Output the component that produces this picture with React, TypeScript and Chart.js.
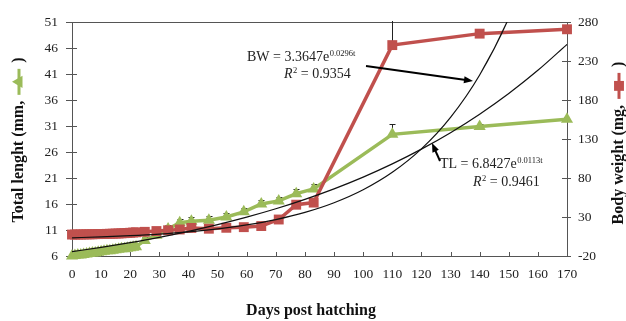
import React, { useEffect, useRef } from 'react';
import { Chart, registerables } from 'chart.js';

Chart.register(...registerables);

// ---- data ----
const sampleDays = [
  0, 1, 2, 3, 4, 5, 6, 7, 8, 9, 10, 11, 12, 13, 14, 15, 16, 17, 18, 19, 20, 21, 22,
  25, 29, 33, 37, 41, 47, 53, 59, 65, 71, 77, 83, 110, 140, 170,
];
const totalLength = [
  6.0, 6.1, 6.2, 6.2, 6.3, 6.4, 6.5, 6.6, 6.6, 6.7, 6.8, 6.9, 7.0, 7.0, 7.1, 7.2, 7.3, 7.4, 7.4, 7.5, 7.6, 7.7, 7.8,
  9.0, 10.0, 11.2, 12.4, 12.7, 12.9, 13.5, 14.5, 16.0, 16.6, 18.0, 18.9, 29.4, 30.9, 32.3,
];
const totalLengthErr = [
  0.4, 0.4, 0.4, 0.4, 0.4, 0.4, 0.4, 0.4, 0.4, 0.4, 0.4, 0.4, 0.4, 0.4, 0.4, 0.4, 0.4, 0.4, 0.4, 0.4, 0.4, 0.4, 0.4,
  0.6, 0.7, 0.8, 0.8, 0.8, 0.8, 0.8, 0.8, 0.8, 0.8, 0.8, 0.9, 1.9, 0.5, 0.5,
];
const bodyWeight = [
  7.5, 7.5, 7.6, 7.6, 7.7, 7.8, 7.8, 7.9, 8.0, 8.1, 8.2, 8.3, 8.4, 8.5, 8.6, 8.8, 8.9, 9.1, 9.3, 9.5, 9.8, 10.1, 10.4,
  11.0, 12.0, 13.0, 14.0, 16.0, 15.0, 16.2, 17.0, 18.4, 26.8, 45.8, 48.5, 250.5, 265.2, 270.8,
];
const bodyWeightErr = [
  1, 1, 1, 1, 1, 1, 1, 1, 1, 1, 1, 1, 1, 1, 1, 1, 1, 1, 1, 1, 1, 1, 1,
  1, 1, 1, 1, 1, 1, 1, 1, 1, 1, 2, 2, 60, 4, 4,
];
// fitted trend curves read at every 10 days
const trendDays = [0, 10, 20, 30, 40, 50, 60, 70, 80, 90, 100, 110, 120, 130, 140, 150, 160, 170];
const tlTrend = [6.84, 7.66, 8.58, 9.6, 10.75, 12.04, 13.48, 15.09, 16.9, 18.92, 21.18, 23.72, 26.56, 29.73, 33.29, 37.27, 41.73, 46.72];
const bwTrend = [3.36, 4.52, 6.08, 8.18, 10.99, 14.78, 19.87, 26.72, 35.92, 48.3, 64.93, 87.3, 117.38, 157.81, 212.18, 285.25, 383.5];

const xMin = 0, xMax = 170, xStep = 10;
const leftMin = 6, leftMax = 51, leftStep = 5;
const rightMin = -20, rightMax = 280, rightStep = 50;

const xTitle = 'Days post hatching';
const leftTitleA = 'Total lenght (mm, ';
const rightTitleA = 'Body weight (mg, ';
const titleB = ' )';
const bwEqMain = 'BW = 3.3647e';
const bwEqExp = '0.0296t';
const bwR2 = ' = 0.9354';
const tlEqMain = 'TL = 6.8427e';
const tlEqExp = '0.0113t';
const tlR2 = ' = 0.9461';

const GREEN = '#9BBB59';
const RED = '#C0504D';
const SERIF = '"Liberation Serif", "Times New Roman", serif';

function drawMarker(ctx: CanvasRenderingContext2D, kind: string, x: number, y: number, r: number, color: string) {
  ctx.save();
  ctx.fillStyle = color;
  ctx.beginPath();
  if (kind === 'triangle') {
    ctx.moveTo(x, y - r);
    ctx.lineTo(x + r * 0.866, y + r * 0.5);
    ctx.lineTo(x - r * 0.866, y + r * 0.5);
    ctx.closePath();
  } else {
    const s = r * Math.SQRT1_2;
    ctx.rect(x - s, y - s, 2 * s, 2 * s);
  }
  ctx.fill();
  ctx.restore();
}

function drawRotatedTitle(ctx: CanvasRenderingContext2D, cx: number, cy: number, a: string, b: string, color: string, kind: string) {
  ctx.save();
  ctx.translate(cx, cy);
  ctx.rotate(-Math.PI / 2);
  ctx.font = 'bold 16px ' + SERIF;
  ctx.fillStyle = '#111';
  ctx.textBaseline = 'middle';
  ctx.textAlign = 'left';
  const wa = ctx.measureText(a).width;
  const wb = ctx.measureText(b).width;
  const mw = 30;
  const total = wa + mw + wb;
  let x = -total / 2;
  ctx.fillText(a, x, 0);
  x += wa;
  ctx.strokeStyle = color;
  ctx.lineWidth = 3;
  ctx.beginPath();
  ctx.moveTo(x + 2, 0);
  ctx.lineTo(x + mw - 2, 0);
  ctx.stroke();
  drawMarker(ctx, kind, x + mw / 2, 0, 7, color);
  ctx.fillStyle = '#111';
  ctx.font = 'bold 16px ' + SERIF;
  ctx.fillText(b, x + mw, 0);
  ctx.restore();
}

function drawArrow(ctx: CanvasRenderingContext2D, x1: number, y1: number, x2: number, y2: number) {
  ctx.save();
  ctx.strokeStyle = '#000';
  ctx.fillStyle = '#000';
  ctx.lineWidth = 2;
  const ang = Math.atan2(y2 - y1, x2 - x1);
  const hl = 9;
  ctx.beginPath();
  ctx.moveTo(x1, y1);
  ctx.lineTo(x2 - Math.cos(ang) * hl * 0.8, y2 - Math.sin(ang) * hl * 0.8);
  ctx.stroke();
  ctx.beginPath();
  ctx.moveTo(x2, y2);
  ctx.lineTo(x2 - hl * Math.cos(ang) + 3.5 * Math.sin(ang), y2 - hl * Math.sin(ang) - 3.5 * Math.cos(ang));
  ctx.lineTo(x2 - hl * Math.cos(ang) - 3.5 * Math.sin(ang), y2 - hl * Math.sin(ang) + 3.5 * Math.cos(ang));
  ctx.closePath();
  ctx.fill();
  ctx.restore();
}

function drawEquation(ctx: CanvasRenderingContext2D, x: number, y: number, main: string, exp: string) {
  ctx.save();
  ctx.fillStyle = '#222';
  ctx.textBaseline = 'alphabetic';
  ctx.textAlign = 'left';
  ctx.font = '14px ' + SERIF;
  ctx.fillText(main, x, y);
  const w = ctx.measureText(main).width;
  ctx.font = '8.5px ' + SERIF;
  ctx.fillText(exp, x + w + 0.5, y - 5.5);
  ctx.restore();
}

function drawR2(ctx: CanvasRenderingContext2D, x: number, y: number, rest: string) {
  ctx.save();
  ctx.fillStyle = '#222';
  ctx.textBaseline = 'alphabetic';
  ctx.textAlign = 'left';
  ctx.font = 'italic 14px ' + SERIF;
  ctx.fillText('R', x, y);
  let w = ctx.measureText('R').width;
  ctx.font = '8.5px ' + SERIF;
  ctx.fillText('2', x + w + 0.5, y - 5.5);
  w += ctx.measureText('2').width + 0.5;
  ctx.font = '14px ' + SERIF;
  ctx.fillText(rest, x + w, y);
  ctx.restore();
}

// plus-direction error bars
const errorBarPlugin = {
  id: 'errorBars',
  beforeDatasetsDraw(chart: any) {
    const ctx = chart.ctx;
    const area = chart.chartArea;
    ctx.save();
    ctx.beginPath();
    ctx.rect(area.left, area.top - 1, area.right - area.left, area.bottom - area.top + 8);
    ctx.clip();
    chart.data.datasets.forEach((ds: any, i: number) => {
      if (!ds.errors) return;
      const meta = chart.getDatasetMeta(i);
      const yScale = chart.scales[ds.yAxisID];
      ctx.strokeStyle = '#222';
      ctx.lineWidth = 1;
      meta.data.forEach((pt: any, j: number) => {
        const v = ds.data[j].y;
        const e = ds.errors[j];
        const yTop = yScale.getPixelForValue(v + e);
        const yMid = yScale.getPixelForValue(v);
        const x = Math.round(pt.x) + 0.5;
        ctx.beginPath();
        ctx.moveTo(x, yTop);
        ctx.lineTo(x, yMid);
        ctx.moveTo(x - 3, Math.round(yTop) + 0.5);
        ctx.lineTo(x + 3, Math.round(yTop) + 0.5);
        ctx.stroke();
      });
    });
    ctx.restore();
  },
};

const framePlugin = {
  id: 'frameAndText',
  beforeDatasetsDraw(chart: any) {
    const ctx = chart.ctx;
    const a = chart.chartArea;
    ctx.save();
    ctx.strokeStyle = '#555';
    ctx.lineWidth = 1;
    ctx.strokeRect(Math.round(a.left) + 0.5, Math.round(a.top) + 0.5, Math.round(a.right - a.left), Math.round(a.bottom - a.top));
    ctx.beginPath();
    const yl = chart.scales.y;
    yl.ticks.forEach((t: any) => {
      const py = Math.round(yl.getPixelForValue(t.value)) + 0.5;
      ctx.moveTo(a.left - 6, py);
      ctx.lineTo(a.left + 5, py);
    });
    const yr = chart.scales.y1;
    yr.ticks.forEach((t: any) => {
      const py = Math.round(yr.getPixelForValue(t.value)) + 0.5;
      ctx.moveTo(a.right - 5, py);
      ctx.lineTo(a.right + 4, py);
    });
    const xs = chart.scales.x;
    xs.ticks.forEach((t: any) => {
      const px = Math.round(xs.getPixelForValue(t.value)) + 0.5;
      ctx.moveTo(px, a.bottom - 4);
      ctx.lineTo(px, a.bottom);
    });
    ctx.stroke();
    ctx.restore();
  },
  afterDraw(chart: any) {
    const ctx = chart.ctx;
    drawRotatedTitle(ctx, 19, 140, leftTitleA, titleB, GREEN, 'triangle');
    drawRotatedTitle(ctx, 619, 143, rightTitleA, titleB, RED, 'rect');
    ctx.save();
    ctx.font = 'bold 16px ' + SERIF;
    ctx.fillStyle = '#111';
    ctx.textAlign = 'center';
    ctx.textBaseline = 'middle';
    ctx.fillText(xTitle, 311, 311);
    ctx.restore();
    drawEquation(ctx, 247, 61, bwEqMain, bwEqExp);
    drawR2(ctx, 284, 78, bwR2);
    drawArrow(ctx, 366, 66, 473, 81);
    drawEquation(ctx, 440, 168, tlEqMain, tlEqExp);
    drawR2(ctx, 473, 186, tlR2);
    drawArrow(ctx, 440, 161, 432, 143);
  },
};

export default function App() {
  const ref = useRef<HTMLCanvasElement | null>(null);
  useEffect(() => {
    if (!ref.current) return;
    Chart.defaults.font.family = SERIF;
    const tlPoints = sampleDays.map((d, i) => ({ x: d, y: totalLength[i] }));
    const bwPoints = sampleDays.map((d, i) => ({ x: d, y: bodyWeight[i] }));
    const tlTrendPts = trendDays.map((d, i) => ({ x: d, y: tlTrend[i] }));
    const bwTrendPts = bwTrend.map((v, i) => ({ x: trendDays[i], y: v }));
    const chart = new Chart(ref.current, {
      type: 'line',
      data: {
        datasets: [
          {
            label: 'BW trend',
            data: bwTrendPts,
            yAxisID: 'y1',
            borderColor: '#111',
            borderWidth: 1.2,
            pointRadius: 0,
            cubicInterpolationMode: 'monotone',
            fill: false,
          },
          {
            label: 'TL trend',
            data: tlTrendPts,
            yAxisID: 'y',
            borderColor: '#111',
            borderWidth: 1.2,
            pointRadius: 0,
            cubicInterpolationMode: 'monotone',
            fill: false,
          },
          {
            label: 'Body weight',
            data: bwPoints,
            yAxisID: 'y1',
            borderColor: RED,
            backgroundColor: RED,
            borderWidth: 3.5,
            pointStyle: 'rect',
            pointRadius: 7,
            pointBorderWidth: 0,
            tension: 0,
            clip: false,
            errors: bodyWeightErr,
          } as any,
          {
            label: 'Total length',
            data: tlPoints,
            yAxisID: 'y',
            borderColor: GREEN,
            backgroundColor: GREEN,
            borderWidth: 3.5,
            pointStyle: 'triangle',
            pointRadius: 7,
            pointBorderWidth: 0,
            tension: 0,
            clip: false,
            errors: totalLengthErr,
          } as any,
        ],
      },
      options: {
        responsive: false,
        animation: false,
        devicePixelRatio: 1,
        layout: { padding: { top: 20, left: 0, right: 0, bottom: 0 } },
        plugins: { legend: { display: false }, tooltip: { enabled: false } },
        scales: {
          x: {
            type: 'linear',
            min: xMin,
            max: xMax,
            border: { display: false },
            grid: { display: false, drawTicks: false },
            ticks: { stepSize: xStep, padding: 10, color: '#222', font: { size: 13.5, family: SERIF } },
            afterFit: (s: any) => { s.height = 65; },
          },
          y: {
            type: 'linear',
            position: 'left',
            min: leftMin,
            max: leftMax,
            border: { display: false },
            grid: { display: false, drawTicks: false },
            ticks: { stepSize: leftStep, padding: 14, color: '#222', font: { size: 13.5, family: SERIF } },
            afterFit: (s: any) => { s.width = 72; },
          },
          y1: {
            type: 'linear',
            position: 'right',
            min: rightMin,
            max: rightMax,
            border: { display: false },
            grid: { display: false, drawTicks: false },
            ticks: { stepSize: rightStep, padding: 11, color: '#222', font: { size: 13.5, family: SERIF } },
            afterFit: (s: any) => { s.width = 59; },
          },
        },
      } as any,
      plugins: [framePlugin, errorBarPlugin],
    });
    return () => chart.destroy();
  }, []);
  return (
    <div style={{ position: 'absolute', left: 0, top: 0, width: 626, height: 321, background: '#fff' }}>
      <canvas ref={ref} width={626} height={321} style={{ display: 'block' }} />
    </div>
  );
}
